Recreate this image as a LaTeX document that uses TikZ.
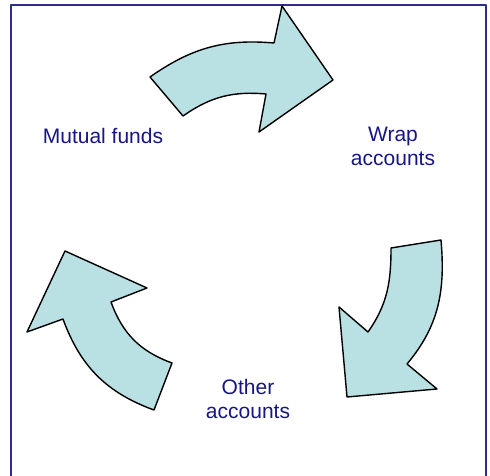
\documentclass[tikz,border=0pt]{standalone}
\usepackage{fontspec}
\setmainfont{Liberation Sans}
\definecolor{arrowfill}{RGB}{185,224,227}
\definecolor{labeltext}{RGB}{22,22,132}
\definecolor{framecol}{RGB}{45,45,145}
\begin{document}
\begin{tikzpicture}[line join=round,x=1pt,y=1pt,
    bigarrow/.style={fill=arrowfill,draw=black,line width=1.4pt},
    lbl/.style={text=labeltext,align=center,inner sep=0pt,font=\fontsize{21}{24}\selectfont}]
  \useasboundingbox (0,0) rectangle (490,476);
  \draw[framecol,line width=1.2pt] (11,0)--(11,471)--(486,471)--(486,0);
  % top arrow
  \draw[bigarrow] (150,399) to[out=35,in=175] (274,433)--(282,470)--(333,396)--(259,344)--(266,382)
    to[out=175,in=35] (183,360)--cycle;
  % right arrow
  \draw[bigarrow] (441,236) to[out=275,in=50] (407,112)--(437,87)--(347,79)--(339,169)--(368,144)
    to[out=55,in=270] (391,228)--cycle;
  % left arrow
  \draw[bigarrow] (154,66) to[out=160,in=290] (63,157)--(27,144)--(65,225)--(147,188)--(111,174)
    to[out=290,in=160] (172,113)--cycle;
  \node[lbl] (mutual) at (103,340) {Mutual funds};
  \node[lbl] (wrap) at (393,329.5) {Wrap\\accounts};
  \node[lbl] (other) at (248,77.5) {Other\\accounts};
\end{tikzpicture}
\end{document}
